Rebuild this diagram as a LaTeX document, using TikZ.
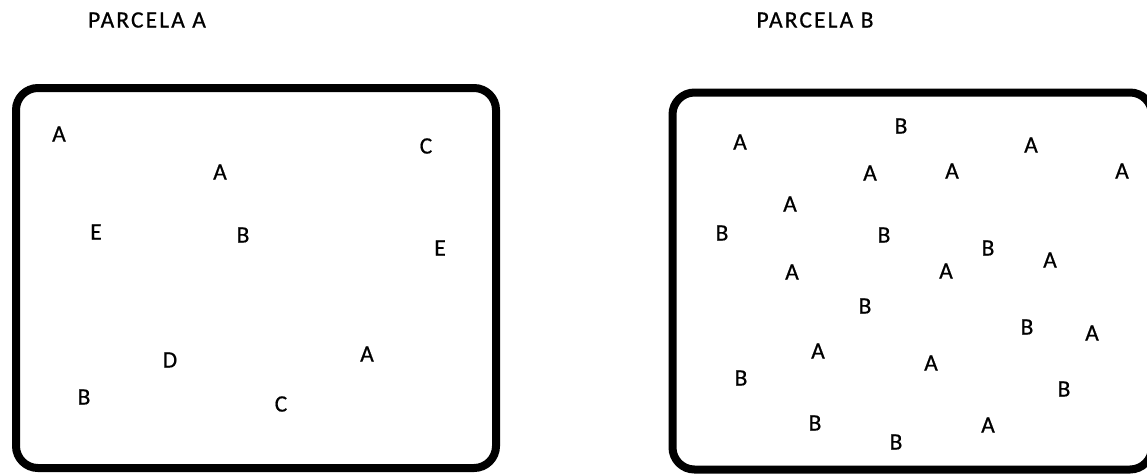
\documentclass[tikz,border=0pt]{standalone}
\usepackage{fontspec}
\setmainfont{Carlito}[FakeBold=0.6]
\newfontfamily\ttlfont{Carlito}[FakeBold=0.7,LetterSpace=9]
\begin{document}
\begin{tikzpicture}[x=1pt,y=-1pt,
  lt/.style={inner sep=0pt, font=\fontsize{23.5}{26}\selectfont, text=black},
  ttl/.style={inner sep=0pt, font=\ttlfont\fontsize{23.5}{26}\selectfont, text=black},
  plot/.style={draw=black, line width=8pt, rounded corners=22pt}]
\useasboundingbox (0,0) rectangle (1147,474);
\node[ttl] (tA) at (147,20) {PARCELA A};
\node[ttl] (tB) at (815,20) {PARCELA B};
\draw[plot] (16,88) rectangle (496,468);
\draw[plot] (672.5,92.5) rectangle (1152,469.5);
% parcela A
\node[lt] (a1) at (59,134) {A};
\node[lt] (a2) at (220,172) {A};
\node[lt] (a3) at (426,146) {C};
\node[lt] (a4) at (96,232) {E};
\node[lt] (a5) at (243,235) {B};
\node[lt] (a6) at (440,248) {E};
\node[lt] (a7) at (170,360) {D};
\node[lt] (a8) at (367,354) {A};
\node[lt] (a9) at (84,397) {B};
\node[lt] (a10) at (281,404) {C};
% parcela B
\node[lt] (b1) at (740,142) {A};
\node[lt] (b2) at (901,126) {B};
\node[lt] (b3) at (1031,145) {A};
\node[lt] (b4) at (870,173) {A};
\node[lt] (b5) at (952,171) {A};
\node[lt] (b6) at (1122,171) {A};
\node[lt] (b7) at (790,204) {A};
\node[lt] (b8) at (722,233) {B};
\node[lt] (b9) at (884,235) {B};
\node[lt] (b10) at (988,248) {B};
\node[lt] (b11) at (1050,260) {A};
\node[lt] (b12) at (792,272) {A};
\node[lt] (b13) at (946,271) {A};
\node[lt] (b14) at (865,306) {B};
\node[lt] (b15) at (1027,327) {B};
\node[lt] (b16) at (1092,333) {A};
\node[lt] (b17) at (818,351) {A};
\node[lt] (b18) at (931,363) {A};
\node[lt] (b19) at (741,378) {B};
\node[lt] (b20) at (1064,389) {B};
\node[lt] (b21) at (815,423) {B};
\node[lt] (b22) at (988,425) {A};
\node[lt] (b23) at (896,442) {B};
\end{tikzpicture}
\end{document}
